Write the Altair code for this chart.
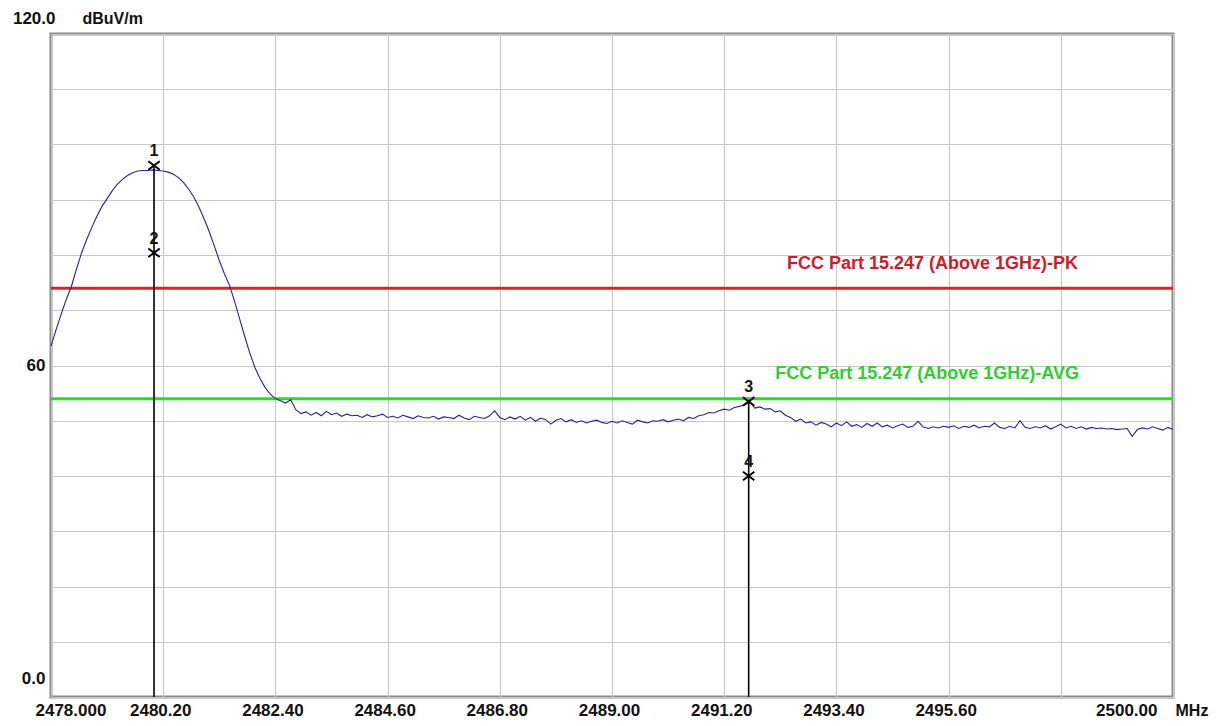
import altair as alt
import pandas as pd

# ---------------- data ----------------
F_START = 2478.0
F_STOP = 2500.0

levels = [
    63.5, 66.5, 69.3, 72.0, 74.3, 77.5, 80.4, 82.8, 85.0, 87.0,
    88.8, 90.2, 91.6, 92.8, 93.7, 94.4, 94.9, 95.2, 95.3, 95.3,
    95.4, 95.3, 95.2, 95.0, 94.6, 94.0,
    93.1, 91.9, 90.5, 88.7, 86.6, 84.3, 81.7, 79.0, 76.6, 74.5,
    71.6, 68.4, 65.2, 62.2, 59.6, 57.6, 56.0, 54.8, 54.0, 53.6,
    53.2, 53.8, 52.0, 51.3, 51.6,
    51.0, 51.5, 50.9, 51.7, 51.1, 51.4, 50.8, 51.2, 50.9, 51.0,
    50.6, 51.1, 50.7, 50.9, 51.2, 50.6, 50.8, 50.5, 51.0, 50.7,
    50.4, 50.9, 50.6, 50.5, 50.8, 50.3, 50.7, 50.6, 50.4, 51.0,
    50.5, 50.2, 50.8, 50.6, 50.4, 50.9, 51.8, 50.6, 50.2, 50.7,
    50.3, 50.8, 50.1, 50.6, 49.9, 50.5, 50.2, 49.4, 50.1, 50.4,
    49.8, 50.2, 49.7, 50.0, 49.6, 49.9, 50.1, 49.7, 49.5, 49.9,
    49.6, 50.0, 49.7, 49.4, 50.1, 49.8, 49.6, 50.0, 49.9, 50.2,
    49.8, 50.1, 50.3, 50.0, 50.6, 50.4, 50.9, 51.1, 51.5, 51.4,
    51.8, 52.1, 51.9, 52.4, 52.6, 52.9, 53.4, 52.3, 52.5, 52.1,
    52.2, 51.6, 51.8, 51.0, 50.6, 49.9, 50.3, 49.6, 49.8, 49.2,
    49.7, 49.4, 48.9, 49.6, 49.1, 49.8, 49.0, 49.3, 48.8, 49.5,
    49.0, 49.6, 48.9, 49.2, 48.7, 49.1, 49.4, 48.8, 49.0, 49.9,
    48.9, 48.6, 48.9, 48.7, 49.0, 48.8, 49.1, 48.6, 49.0, 48.8,
    49.2, 48.7, 49.0, 48.9, 49.6, 48.8, 48.6, 49.0, 48.7, 50.0,
    48.8, 48.6, 48.9, 48.7, 49.1, 48.5, 48.9, 49.4, 48.7, 49.0,
    48.6, 48.9, 48.5, 48.8, 48.6, 48.7, 48.5, 48.6, 48.4, 48.5,
    48.6, 47.2, 48.4, 48.7, 48.5, 48.9, 48.6, 48.3, 48.8, 48.4,
]
n = len(levels)
freqs = [F_START + (F_STOP - F_START) * i / (n - 1) for i in range(n)]

limit_values = [74, 54]
limit_names = ["FCC Part 15.247 (Above 1GHz)-PK", "FCC Part 15.247 (Above 1GHz)-AVG"]
limit_line_colors = ["#ec1c24", "#22e022"]
limit_text_colors = ["#cf1b2b", "#2ecf2e"]
limit_label_freq = [2492.43, 2492.20]
limit_label_level = [78.3, 58.4]

marker_ids = ["1", "2", "3", "4"]
marker_freq = [2480.02, 2480.02, 2491.68, 2491.68]
marker_level = [96.2, 80.4, 53.5, 40.0]

x_ticks = [2478.0, 2480.2, 2482.4, 2484.6, 2486.8, 2489.0, 2491.2, 2493.4, 2495.6, 2497.8, 2500.0]
y_ticks = [0, 10, 20, 30, 40, 50, 60, 70, 80, 90, 100, 110, 120]

# ---------------- tables ----------------
trace = pd.DataFrame({"freq": freqs, "level": levels})
limits = pd.DataFrame({
    "level": limit_values, "name": limit_names, "lc": limit_line_colors,
    "tc": limit_text_colors, "lf": limit_label_freq, "ll": limit_label_level,
})
markers = pd.DataFrame({"id": marker_ids, "freq": marker_freq, "level": marker_level})
marker_lines = markers[markers["id"].isin(["1", "3"])]

FONT = "Liberation Sans"

x_axis = alt.Axis(
    values=x_ticks, grid=True, gridColor="#c8c8c8", gridWidth=1,
    domain=False, ticks=False, tickSize=0,
    labelExpr="abs(datum.value-2478)<0.01 ? '2478.000' : (abs(datum.value-2497.8)<0.01 ? '' : format(datum.value, '.2f'))",
    labelAlign={"expr": "datum.value < 2478.01 ? 'left' : (datum.value > 2499.99 ? 'right' : 'center')"},
    labelOffset={"expr": "datum.value < 2478.01 ? -16 : (datum.value > 2499.99 ? -16 : -3)"},
    labelFont=FONT, labelFontSize=17, labelFontWeight="bold", labelColor="#111",
    labelBaseline="middle", labelPadding=13, labelOverlap=False, labelFlush=False,
    title="MHz", titleX=1124, titleY=13, titleAlign="left", titleBaseline="middle",
    titleAngle=0, titleFont=FONT, titleFontSize=16, titleFontWeight="bold", titleColor="#111",
)
y_axis = alt.Axis(
    values=y_ticks, grid=True, gridColor="#c8c8c8", gridWidth=1,
    domain=False, ticks=False, tickSize=0,
    labelExpr="datum.value==0 ? '0.0' : (datum.value==60 ? '60' : (datum.value==120 ? '120.0' : ''))",
    labelOffset={"expr": "datum.value==60 ? 0 : (datum.value==120 ? -16 : -19)"},
    labelPadding={"expr": "datum.value==120 ? -4 : 6"},
    labelFont=FONT, labelFontSize=17, labelFontWeight="bold", labelColor="#111",
    labelBaseline="middle", labelOverlap=False, labelFlush=False,
    title="dBuV/m", titleX=31, titleY=-16, titleAlign="left", titleBaseline="middle",
    titleAngle=0, titleFont=FONT, titleFontSize=16, titleFontWeight="bold", titleColor="#111",
)
xs = alt.Scale(domain=[F_START, F_STOP], nice=False, zero=False)
ys = alt.Scale(domain=[0, 120], nice=False, zero=False)


def X(field):
    return alt.X(field, type="quantitative", scale=xs, axis=x_axis)


def Y(field):
    return alt.Y(field, type="quantitative", scale=ys, axis=y_axis)


limit_rules = alt.Chart(limits).mark_rule(strokeWidth=3).encode(
    y=Y("level"), color=alt.Color("lc:N", scale=None)
)
limit_text = alt.Chart(limits).mark_text(
    align="left", baseline="middle", font=FONT,
    fontSize=18, fontWeight="bold",
).encode(x=X("lf"), y=Y("ll"), text="name:N", color=alt.Color("tc:N", scale=None))

line = alt.Chart(trace).mark_line(color="#2323a3", strokeWidth=1.1).encode(
    x=X("freq"), y=Y("level")
)

mrules = alt.Chart(marker_lines).mark_rule(color="#000", strokeWidth=1.6).encode(
    x=X("freq"), y=Y("level"), y2=alt.datum(0)
)
mpoints = alt.Chart(markers).mark_point(
    shape="M-1,-0.75L1,0.75M-1,0.75L1,-0.75", filled=False, color="#000",
    strokeWidth=2, size=130, opacity=1,
).encode(x=X("freq"), y=Y("level"))
mtext = alt.Chart(markers).mark_text(
    dy=-14, font=FONT, fontSize=16, fontWeight="bold", color="#111", baseline="middle"
).encode(x=X("freq"), y=Y("level"), text="id:N")

chart = alt.layer(limit_rules, limit_text, line, mrules, mpoints, mtext).properties(
    width=1122, height=663,
    autosize=alt.AutoSizeParams(type="none"),
    padding={"left": 43, "top": 26, "right": 37, "bottom": 21},
    background="white",
).configure_view(stroke="#8a8a8a", strokeWidth=3)

chart.save("out.html", embed_options={"renderer": "svg", "actions": False})
